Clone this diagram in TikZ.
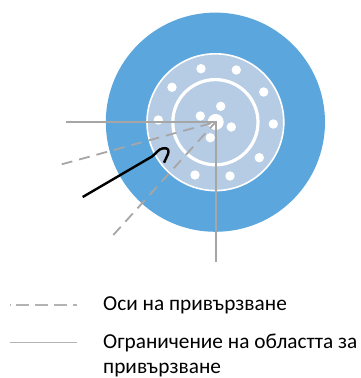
\documentclass[tikz,border=0pt]{standalone}
\usepackage{fontspec}
\setmainfont{Carlito}
\definecolor{ringblue}{HTML}{5BA7DD}
\definecolor{discblue}{HTML}{B6CCE4}
\definecolor{axisgray}{HTML}{A6A6A6}
\tikzset{
  dotw/.style={circle,fill=white,draw=none,inner sep=0pt,minimum size=9.4pt},
  limitline/.style={draw=axisgray,line width=1.8pt},
  axisline/.style={draw=axisgray,line width=1.8pt,dash pattern=on 11pt off 7pt},
  legendtext/.style={anchor=base west,inner sep=0pt,font=\fontsize{21.3}{26}\selectfont,text=black}
}
\begin{document}
\begin{tikzpicture}[x=1pt,y=-1pt]
\useasboundingbox (0,0) rectangle (361,378);
\coordinate (c) at (215.4,122.2);
\fill[ringblue] (c) circle (109.6);
\fill[discblue,draw=white,line width=1.6pt] (c) circle (68.4);
\draw[white,line width=3.2pt] (c) circle (42.6);
\node[circle,fill=white,inner sep=0pt,minimum size=16pt] (hub) at (215.7,122) {};
\foreach \n/\x/\y in {a/201/68.7,b/236.3/70,d/172/87.3,e/263.7/92,f/273.3/124,g/259.3/157.7,h/230/176,i/195/175,j/158.3/120,k/220.7/106.3,l/200.3/116,m/231.3/127,o/210.3/137.7}
  \node[dotw] (\n) at (\x,\y) {};
\coordinate (hl) at (66,122);
\coordinate (vb) at (215.6,262);
\coordinate (corner) at (215.6,122);
\coordinate (d1) at (61.7,164.3);
\coordinate (d2) at (113.3,235);
\draw[limitline] (hl) -- (corner) -- (vb);
\draw[axisline] (d1) -- (corner);
\draw[axisline] (d2) -- (corner);
\coordinate (p0) at (82.7,197);
\coordinate (p1) at (151.7,156.7);
\coordinate (p2) at (164,162.7);
\draw[black,line width=2.4pt,line join=round] (p0) -- (p1) .. controls (156,154) and (158,149) .. (163,148.3) .. controls (169,147.5) and (169,151) .. (168,154) .. controls (167,157) and (165,160) .. (p2);
\coordinate (l1a) at (10,305);
\coordinate (l1b) at (77,305);
\coordinate (l2a) at (10,342.5);
\coordinate (l2b) at (77,342.5);
\draw[draw=axisgray!85,line width=1.5pt,dash pattern=on 1pt off 5pt on 13pt off 6pt on 13pt off 6pt on 13pt off 6pt on 13pt] (l1a) -- (l1b);
\draw[draw=axisgray!85,line width=1.8pt] (l2a) -- (l2b);
\node[legendtext] (t1) at (103,310.5) {Оси на привързване};
\node[legendtext] (t2) at (103,348) {Ограничение на областта за};
\node[legendtext] (t3) at (103,373) {привързване};
\end{tikzpicture}
\end{document}
